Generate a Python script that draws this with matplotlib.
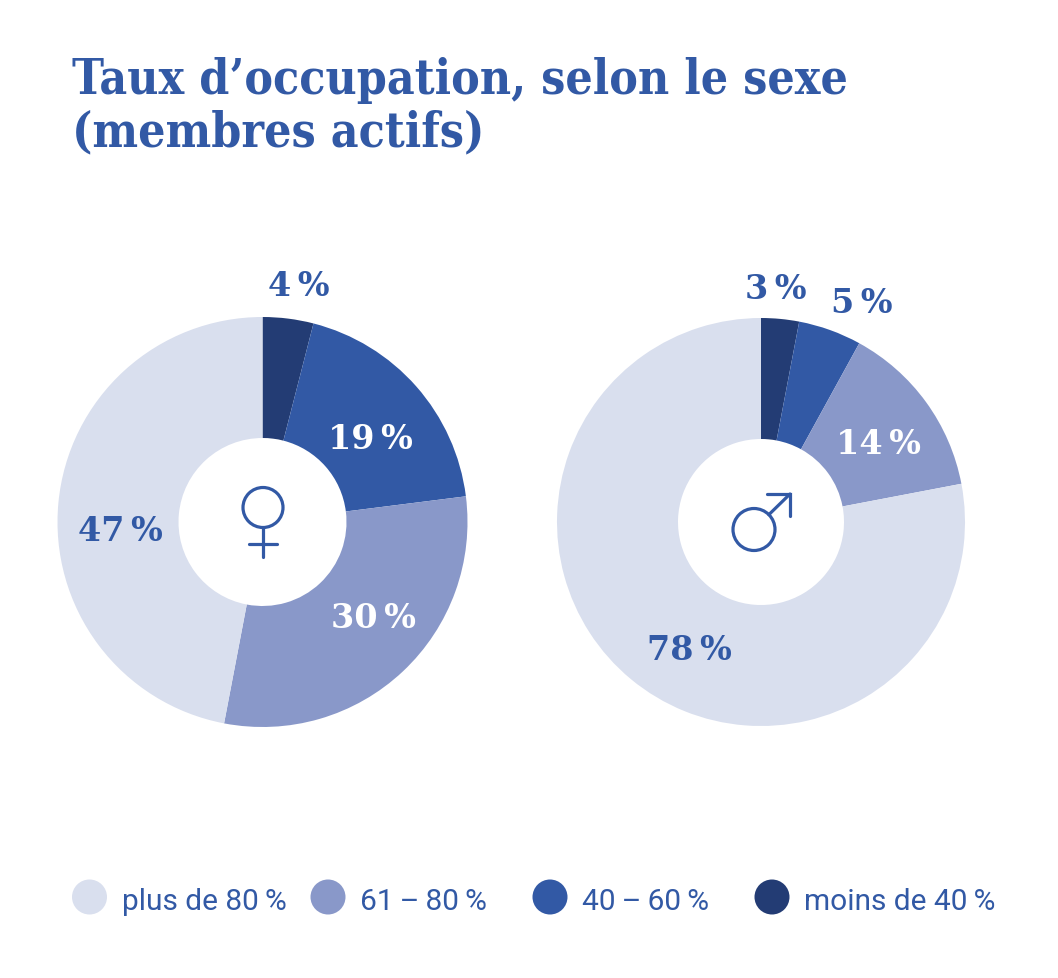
import numpy as np
import matplotlib.pyplot as plt
from matplotlib.patches import Circle
from matplotlib.lines import Line2D

W, H = 1058, 979

categories = ["plus de 80\u2009%", "61\u2009\u2013\u200980\u2009%", "40\u2009\u2013\u200960\u2009%", "moins de 40\u2009%"]
colors = ["#d9dfee", "#8998c9", "#3259a5", "#233c74"]

# shares clockwise from 12 o'clock: moins de 40, 40-60, 61-80, plus de 80
femmes = [4, 19, 30, 47]
hommes = [3, 5, 14, 78]
order_colors = colors[::-1]

blue = "#3259a5"
serif = ["DejaVu Serif"]
sans = ["Roboto", "DejaVu Sans"]

fig = plt.figure(figsize=(W / 100, H / 100), dpi=100)
ax = fig.add_axes([0, 0, 1, 1])


def fy(y):
    return H - y


def donut(values, cx, cy, r_out, nudges):
    ax.pie(values, colors=order_colors, startangle=90, counterclock=False,
           radius=r_out, center=(cx, fy(cy)),
           wedgeprops=dict(width=121, linewidth=0))
    total = float(sum(values))
    start = 0.0
    for i, v in enumerate(values):
        mid = np.radians((start + v / 2) / total * 360)
        start += v
        small = v / total < 0.06
        r = 238 if small else 143
        x = cx + r * np.sin(mid) + nudges[i][0]
        y = cy - r * np.cos(mid) + nudges[i][1]
        col = "white" if i in (1, 2) and not small else blue
        ax.text(x, fy(y + 13), f"{v}\u2009%", ha="center", va="baseline",
                fontsize=24, fontweight="heavy", family=serif, color=col)


donut(femmes, 262.5, 523, 205, [(6, -4), (1, 8), (13, -12), (0, 18)])
donut(hommes, 761, 523, 204, [(-8, 0), (20, 1), (2, 2), (20, 14)])

# female symbol
lw = 2.3
ax.add_patch(Circle((263, fy(508.5)), 20, fill=False, ec=blue, lw=lw))
ax.add_line(Line2D([263, 263], [fy(529), fy(558)], color=blue, lw=lw, solid_capstyle="round"))
ax.add_line(Line2D([249, 277], [fy(545), fy(545)], color=blue, lw=lw, solid_capstyle="round"))

# male symbol
mx, my, mr = 754, 530.5, 21
ax.add_patch(Circle((mx, fy(my)), mr, fill=False, ec=blue, lw=lw))
ax.add_line(Line2D([mx + mr * 0.707, 790], [fy(my - mr * 0.707), fy(495)], color=blue, lw=lw,
                   solid_capstyle="round"))
ax.add_line(Line2D([767, 790, 790], [fy(495), fy(495), fy(517)], color=blue, lw=lw,
                   solid_capstyle="round", solid_joinstyle="miter"))

# title
ax.text(72, fy(94), "Taux d\u2019occupation, selon le sexe", ha="left", va="baseline",
        fontsize=34.5, fontweight="bold", family=serif, color=blue, fontstretch="condensed")
ax.text(72, fy(146), "(membres actifs)", ha="left", va="baseline",
        fontsize=34.5, fontweight="bold", family=serif, color=blue, fontstretch="condensed")

# legend
marker_x = [89.5, 328, 550, 772]
for x, lab, c in zip(marker_x, categories, colors):
    ax.add_patch(Circle((x, fy(898)), 17.5, color=c, lw=0))
    ax.text(x + 32, fy(910), lab, ha="left", va="baseline", fontsize=21.5,
            family=sans, color=blue)

ax.set_xlim(0, W)
ax.set_ylim(0, H)
ax.set_aspect("equal")
ax.axis("off")

fig.savefig("out.png", dpi=100, facecolor="white")
